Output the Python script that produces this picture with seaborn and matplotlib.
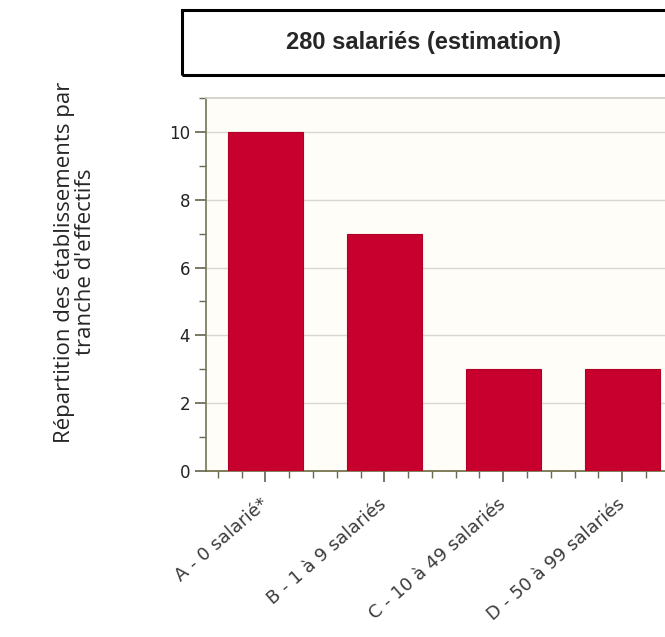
import seaborn as sns
import pandas as pd
import matplotlib.pyplot as plt
from matplotlib.patches import Rectangle
from matplotlib.ticker import MultipleLocator

# données
categories = ['A - 0 salarié*', 'B - 1 à 9 salariés', 'C - 10 à 49 salariés', 'D - 50 à 99 salariés']
valeurs = [10, 7, 3, 3]
titre = '280 salariés (estimation)'
label_y = "Répartition des établissements par\ntranche d'effectifs"

df = pd.DataFrame({'tranche': categories, 'nb': valeurs})

sns.set_theme(style='white')
plt.rcParams['font.family'] = ['DejaVu Sans']

fig = plt.figure(figsize=(6.65, 6.37), dpi=100)
W, H = 665, 637
# axes : gauche 206px, haut 98px, bas 471px, coupé à droite
ax = fig.add_axes([206 / W, 1 - 471 / H, (W - 206) / W, (471 - 98) / H])
ax.set_facecolor('#fffdf7')

sns.barplot(data=df, x='tranche', y='nb', color='#c8002e', width=0.63,
            saturation=1, edgecolor='#b00028', linewidth=0.8, ax=ax, zorder=3)

ax.set_ylim(0, 11)
ax.set_xlim(-0.5, 3.36)
ax.yaxis.set_major_locator(MultipleLocator(2))
ax.yaxis.set_minor_locator(MultipleLocator(1))
ax.set_xticks(range(len(categories)))
ax.xaxis.set_minor_locator(MultipleLocator(0.2))
ax.grid(axis='y', which='major', color='#d8d6d0', linewidth=1, zorder=0)

ax.spines['right'].set_visible(False)
ax.spines['top'].set_color('#d0cec8')
ax.spines['left'].set_color('#7a7a60')
ax.spines['bottom'].set_color('#6a6a40')
ax.spines['bottom'].set_linewidth(1.2)

ax.tick_params(axis='both', which='major', direction='out', length=8, color='#6a6a50',
               labelsize=12, labelcolor='#222222', bottom=True, left=True)
ax.tick_params(axis='both', which='minor', direction='out', length=5, color='#6a6a50',
               bottom=True, left=True)
ax.tick_params(axis='x', which='major', pad=14)
ax.set_xticklabels(categories, rotation=41, ha='right', va='center', rotation_mode='anchor',
                   fontsize=13, color='#3a3a3a', family=['DejaVu Sans'])
ax.set_xlabel('')
ax.set_ylabel('')

# cadre du titre
fig.patches.append(Rectangle((182 / W, 1 - 75 / H), (W - 182) / W + 0.01, 65 / H,
                             transform=fig.transFigure, fill=False, edgecolor='black',
                             linewidth=2.2))
fig.text(423 / W, 1 - 43 / H, titre, ha='center', va='center', fontsize=17,
         fontweight='bold', family=['Liberation Sans', 'DejaVu Sans'])

# libellé vertical
fig.text(75 / W, 1 - 262 / H, label_y, rotation=90, ha='center', va='center',
         fontsize=16, linespacing=1.05, family=['Open Sans', 'DejaVu Sans'])

plt.savefig('out.png', dpi=100)
